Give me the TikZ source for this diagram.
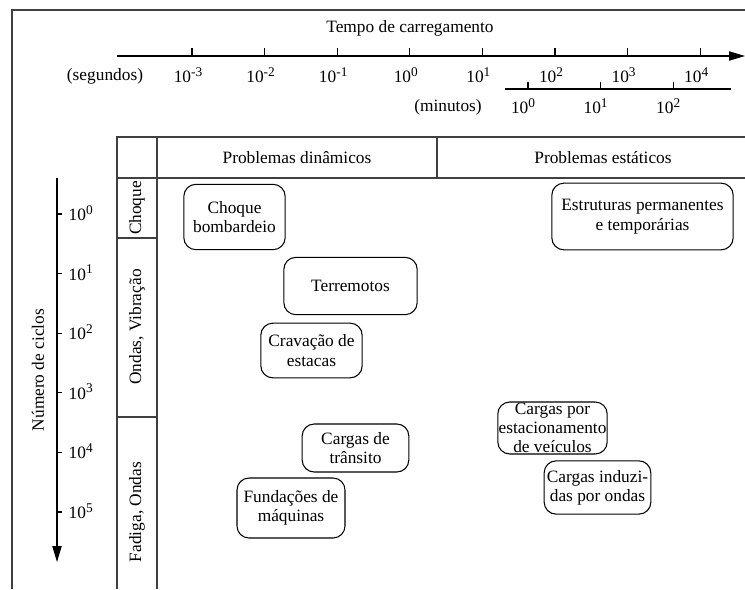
\documentclass[tikz,border=0pt]{standalone}
\usepackage{fontspec}
\setmainfont{Liberation Serif}
\usetikzlibrary{arrows.meta}
\newcommand{\pot}[1]{10\raisebox{0.8ex}{\fontsize{10pt}{10pt}\selectfont #1}}

\begin{document}
\begin{tikzpicture}[x=0.75pt,y=-0.75pt]
\tikzset{
  every node/.style={font=\fontsize{13pt}{14.5pt}\selectfont},
  caixa/.style={draw,rounded corners=9pt,align=center,inner sep=1pt,line width=0.8pt},
  eixo/.style={line width=0.8pt},
  grade/.style={line width=0.8pt,draw=black!75},
  seta/.style={-{Triangle[length=12pt,width=7pt]}}
}
\useasboundingbox (0,0) rectangle (745,589);
\draw[grade] (12,589) -- (12,10) -- (745,10);

% eixo do tempo
\coordinate (ta) at (117,56);
\coordinate (tb) at (745,56);
\draw[eixo,seta] (ta) -- (tb);
\node (tempo) at (410,28) {Tempo de carregamento};
\node (seg) at (105,76) {(segundos)};
\foreach \e [count=\i from 0] in {-3,-2,-1,0,1,2,3,4}{
  \draw[eixo] (192+72.6*\i,48) -- (192+72.6*\i,56);
  \node (s\i) at (188+72.6*\i,75) {\pot{\e}};
}
\coordinate (ma) at (505,89);
\coordinate (mb) at (731,89);
\draw[eixo] (ma) -- (mb);
\node (minutos) at (448,107) {(minutos)};
\foreach \e [count=\i from 0] in {0,1,2}{
  \draw[eixo] (528+72.6*\i,82) -- (528+72.6*\i,89);
  \node (m\e) at (523+72.6*\i,106) {\pot{\e}};
}

% eixo dos ciclos
\coordinate (ca) at (57,178);
\coordinate (cb) at (57,562);
\draw[eixo,seta] (ca) -- (cb);
\node[rotate=90] (ciclos) at (38,370) {Número de ciclos};
\foreach \e in {0,...,5}{
  \draw[eixo] (57,214+59.6*\e) -- (62,214+59.6*\e);
  \node[anchor=west] (c\e) at (64,213+59.6*\e) {\pot{\e}};
}

% tabela
\draw[grade] (745,137) -- (117,137) -- (117,589);
\draw[grade] (157,137) -- (157,589);
\draw[grade] (117,178) -- (745,178);
\draw[grade] (437,137) -- (437,178);
\draw[grade] (117,238) -- (157,238);
\draw[grade] (117,417) -- (157,417);
\node (din) at (297,158) {Problemas dinâmicos};
\node (est) at (603,158) {Problemas estáticos};
\node[rotate=90] (choque) at (137,208) {Choque};
\node[rotate=90] (ondas) at (137,327) {Ondas, Vibração};
\node[rotate=90] (fadiga) at (137,512) {Fadiga, Ondas};

% casos
\node[caixa,minimum width=76pt,minimum height=49pt] (bomb) at (234.5,217) {Choque\\bombardeio};
\node[caixa,minimum width=136pt,minimum height=50pt] (estr) at (642.5,216.5) {Estruturas permanentes\\e temporárias};
\node[caixa,minimum width=100pt,minimum height=43pt] (terr) at (350.5,286) {Terremotos};
\node[caixa,minimum width=76pt,minimum height=41pt] (crav) at (311.5,350.5) {Cravação de\\estacas};
\node[caixa,minimum width=82pt,minimum height=39pt,inner sep=0pt] (estac) at (552.5,428) {Cargas por\\estacionamento\\de veículos};
\node[caixa,minimum width=80pt,minimum height=36pt] (trans) at (355.5,448) {Cargas de\\trânsito};
\node[caixa,minimum width=80pt,minimum height=40pt] (induz) at (597.5,487.5) {Cargas induzi-\\das por ondas};
\node[caixa,minimum width=81pt,minimum height=45pt] (maq) at (291,508) {Fundações de\\máquinas};
\end{tikzpicture}
\end{document}
